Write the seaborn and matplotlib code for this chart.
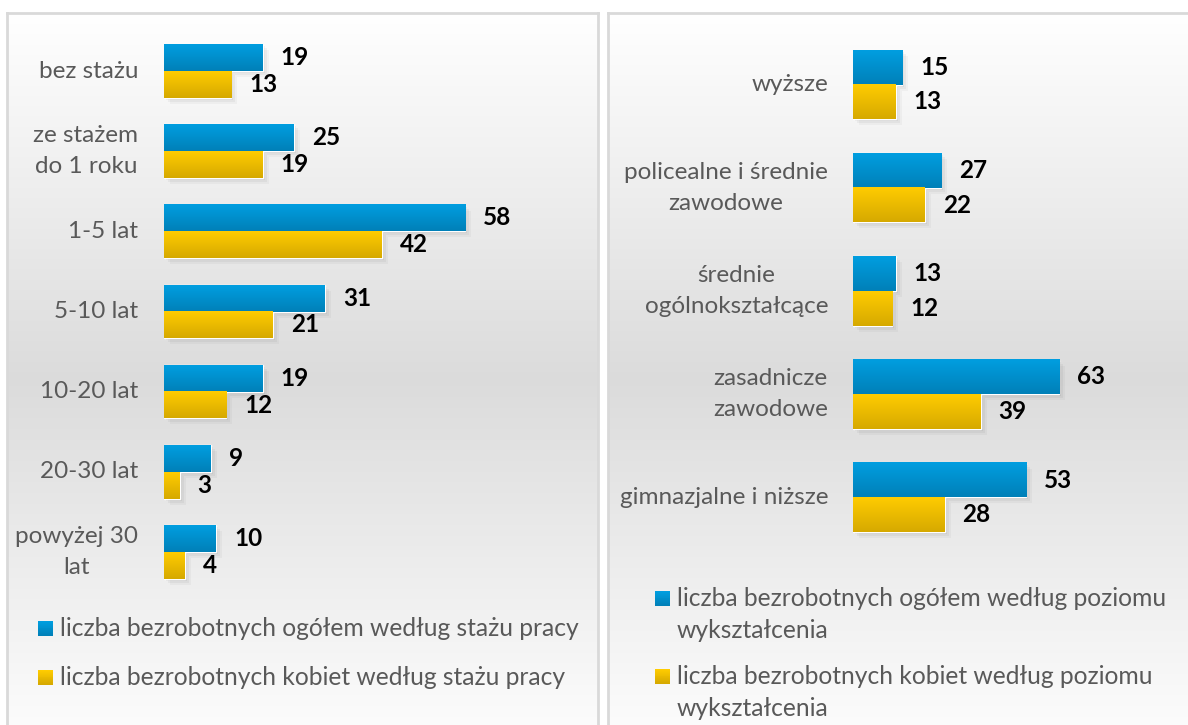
"""
Bezrobotni wg stażu pracy i poziomu wykształcenia - dwa panele z poziomymi słupkami
"""

import numpy as np
import pandas as pd
import matplotlib
matplotlib.use("Agg")
import matplotlib.pyplot as plt
import matplotlib.transforms as mtransforms
from matplotlib.patches import Rectangle
import seaborn as sns

# ======================================================
# 1. DATA
# ======================================================
staz_categories = ["bez stażu", "ze stażem\ndo 1 roku", "1-5 lat", "5-10 lat",
                   "10-20 lat", "20-30 lat", "powyżej 30\nlat"]
staz_ogolem = [19, 25, 58, 31, 19, 9, 10]
staz_kobiety = [13, 19, 42, 21, 12, 3, 4]
staz_series = ["liczba bezrobotnych ogółem według stażu pracy",
               "liczba bezrobotnych kobiet według stażu pracy"]

wyk_categories = ["wyższe", "policealne i średnie\nzawodowe", "średnie\nogólnokształcące",
                  "zasadnicze\nzawodowe", "gimnazjalne i niższe"]
wyk_ogolem = [15, 27, 13, 63, 53]
wyk_kobiety = [13, 22, 12, 39, 28]
wyk_series = ["liczba bezrobotnych ogółem według poziomu\nwykształcenia",
              "liczba bezrobotnych kobiet według poziomu\nwykształcenia"]

# ======================================================
# 2. STYLE
# ======================================================
sns.set_style("white")
plt.rcParams["font.family"] = ["Lato", "DejaVu Sans"]

W, H = 1188, 725
BLUE, GOLD = "#0090cc", "#eabb00"
GRADIENTS = [("#009ee0", "#0080b8"), ("#ffcc00", "#d6a900")]
LABEL_COLOR = "#595959"
CAT_SIZE = 17.5
VAL_SIZE = 17.5
LEG_SIZE = 17.7

fig = plt.figure(figsize=(W / 100, H / 100), dpi=100)


def px_axes(x0, y0, x1, y1, **kw):
    return fig.add_axes([x0 / W, 1 - y1 / H, (x1 - x0) / W, (y1 - y0) / H], **kw)


def hex_rgb(c):
    return np.array(matplotlib.colors.to_rgb(c))


def gradient(top, bot, n=64):
    return np.linspace(hex_rgb(top), hex_rgb(bot), n)[:, None, :]


def panel_background(x0, y0, x1, y1):
    ax = px_axes(x0, y0, x1, y1)
    t = np.linspace(0, 1, 400)
    level = np.interp(t, [0, 0.49, 1.0], [1.0, 0.86, 1.0])
    img = np.repeat(level[:, None], 3, axis=1)[:, None, :]
    ax.imshow(img, aspect="auto", extent=(0, 1, 0, 1), origin="upper")
    ax.set_xlim(0, 1)
    ax.set_ylim(0, 1)
    ax.set_xticks([])
    ax.set_yticks([])
    for s in ax.spines.values():
        s.set_color("#d9d9d9")
        s.set_linewidth(2)
    return ax


def draw_panel(rect, xmax, categories, v1, v2, series, pad):
    ax = px_axes(*rect)
    ax.patch.set_alpha(0)
    df = pd.DataFrame({
        "kategoria": categories * 2,
        "seria": [series[0]] * len(categories) + [series[1]] * len(categories),
        "wartosc": v1 + v2,
    })
    sns.barplot(data=df, y="kategoria", x="wartosc", hue="seria", orient="h",
                palette=[BLUE, GOLD], saturation=1, width=0.67, legend=False,
                ax=ax, zorder=3)

    # gradient fill + soft shadow on top of the seaborn bars
    for cont, (top, bot) in zip(ax.containers, GRADIENTS):
        for patch in cont.patches:
            x0, y0 = patch.get_x(), patch.get_y()
            w, h = patch.get_width(), patch.get_height()
            ax.imshow(gradient(top, bot), aspect="auto", extent=(x0, x0 + w, y0 + h, y0),
                      origin="upper", zorder=4)
            for k, a in [(6, 0.03), (4, 0.04), (2, 0.05)]:
                tr = mtransforms.offset_copy(ax.transData, fig=fig, x=k, y=-k, units="dots")
                ax.add_patch(Rectangle((x0, y0), w, h, transform=tr, color="black",
                                       alpha=a, lw=0, zorder=2))

    ax.set_xlim(0, xmax)
    ax.set_ylim(len(categories) - 0.5, -0.5)

    for cont in ax.containers:
        ax.bar_label(cont, padding=13, fontsize=VAL_SIZE, fontweight="bold",
                     color="black", zorder=5)

    ax.set_xlabel("")
    ax.set_ylabel("")
    ax.set_xticks([])
    ax.set_yticks(range(len(categories)))
    ax.set_yticklabels(categories, multialignment="center", linespacing=1.6, va="center")
    ax.tick_params(axis="y", length=0, pad=pad, labelsize=CAT_SIZE, labelcolor=LABEL_COLOR)
    sns.despine(ax=ax, left=True, bottom=True)
    return ax


def draw_legend(x_sq, rows, labels):
    for yc, (top, bot), label in zip(rows, GRADIENTS, labels):
        lax = px_axes(x_sq, yc - 7, x_sq + 15, yc + 8)
        lax.imshow(gradient(top, bot, 16), aspect="auto", extent=(0, 1, 0, 1),
                   interpolation="nearest")
        lax.set_xlim(0, 1)
        lax.set_ylim(0, 1)
        lax.axis("off")
        fig.text((x_sq + 22) / W, 1 - (yc - 11) / H, label, ha="left", va="top",
                 fontsize=LEG_SIZE, color=LABEL_COLOR, linespacing=1.45)


# ======================================================
# 3. FIGURE
# ======================================================
panel_background(7, 13, 598, 760)
panel_background(608, 13, 1200, 760)

draw_panel((164, 31, 580, 592), (580 - 164) / 5.19, staz_categories,
           staz_ogolem, staz_kobiety, staz_series, pad=18.5)
draw_panel((853, 33, 1170, 549), (1170 - 853) / 3.27, wyk_categories,
           wyk_ogolem, wyk_kobiety, wyk_series, pad=18)

draw_legend(38, [628, 677], staz_series)
draw_legend(655, [598, 676], wyk_series)

fig.savefig("out.png", dpi=100)
plt.close(fig)
